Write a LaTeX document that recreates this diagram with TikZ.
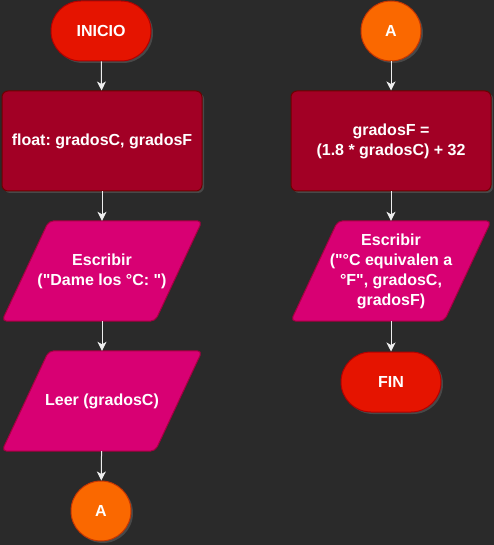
\documentclass[tikz,border=0pt]{standalone}
\usepackage{fontspec}
\setmainfont{Liberation Sans}
\usepackage{xcolor}
\usetikzlibrary{arrows.meta,positioning}
\usetikzlibrary{shadows,backgrounds}
\definecolor{fondo}{HTML}{2A2A2A}
\definecolor{rojo}{HTML}{E51400}
\definecolor{rojoborde}{HTML}{B20000}
\definecolor{carmesi}{HTML}{A20025}
\definecolor{carmesiborde}{HTML}{6F0000}
\definecolor{rosa}{HTML}{D80073}
\definecolor{rosaborde}{HTML}{A50040}
\definecolor{naranja}{HTML}{FA6800}
\definecolor{naranjaborde}{HTML}{C73500}
\definecolor{linea}{HTML}{EEEEEE}

\tikzset{
  texto/.style={text=white, align=center,
    font=\bfseries\fontsize{16}{20}\selectfont\frenchspacing},
  base/.style={texto, draw, line width=1pt,
    drop shadow={shadow xshift=2pt, shadow yshift=-2pt, opacity=0.35}},
  terminal/.style={base, fill=rojo, draw=rojoborde,
    minimum width=100pt, minimum height=60pt, rounded corners=30pt},
  proceso/.style={base, fill=carmesi, draw=carmesiborde,
    minimum width=200pt, minimum height=100pt, rounded corners=6pt},
  datos/.style={texto, minimum width=153pt, minimum height=100pt, inner sep=0pt},
  conector/.style={base, circle, fill=naranja, draw=naranjaborde, minimum size=60pt},
  flecha/.style={draw=linea, line width=1pt, -{Stealth[length=9pt,width=9pt,inset=2.5pt]}}
}

% parallelogram drawn round a data node
\newcommand{\paralelo}[1]{%
  \fill[black, opacity=0.35, rounded corners=5pt, shift={(2,2)}]
    ([xshift=-23.5pt]#1.south west) -- ([xshift=23.5pt]#1.north west) --
    ([xshift=23.5pt]#1.north east) -- ([xshift=-23.5pt]#1.south east) -- cycle;
  \filldraw[fill=rosa, draw=rosaborde, line width=1pt, rounded corners=5pt]
    ([xshift=-23.5pt]#1.south west) -- ([xshift=23.5pt]#1.north west) --
    ([xshift=23.5pt]#1.north east) -- ([xshift=-23.5pt]#1.south east) -- cycle;}

\begin{document}
\begin{tikzpicture}[x=1pt, y=-1pt]
\useasboundingbox (0,0) rectangle (494,545);

% Left column
\node[terminal] (inicio) at (101,31) {INICIO};
\node[proceso] (declarar) at (102,141) {float: gradosC, gradosF};
\node[datos] (escribir1) at (102,271) {Escribir\\(\textquotedbl Dame los °C: \textquotedbl)};
\node[datos] (leer) at (102,401) {Leer (gradosC)};
\node[conector] (a1) at (101,511) {A};

% Right column
\node[conector] (a2) at (391,31) {A};
\node[proceso] (calcular) at (391,141) {gradosF =\\(1.8 * gradosC) + 32};
\node[datos] (escribir2) at (391,271) {Escribir\\(\textquotedbl°C equivalen a\\°F\textquotedbl, gradosC,\\gradosF)};
\node[terminal] (fin) at (391,382) {FIN};

% Background and data shapes
\begin{scope}[on background layer]
\fill[fondo] (0,0) rectangle (494,545);
\paralelo{escribir1}
\paralelo{leer}
\paralelo{escribir2}
\end{scope}

% Flow lines
\draw[flecha] (inicio) -- (declarar);
\draw[flecha] (declarar) -- (escribir1);
\draw[flecha] (escribir1) -- (leer);
\draw[flecha] (leer) -- (a1);
\draw[flecha] (a2) -- (calcular);
\draw[flecha] (calcular) -- (escribir2);
\draw[flecha] (escribir2) -- (fin);
\end{tikzpicture}
\end{document}
